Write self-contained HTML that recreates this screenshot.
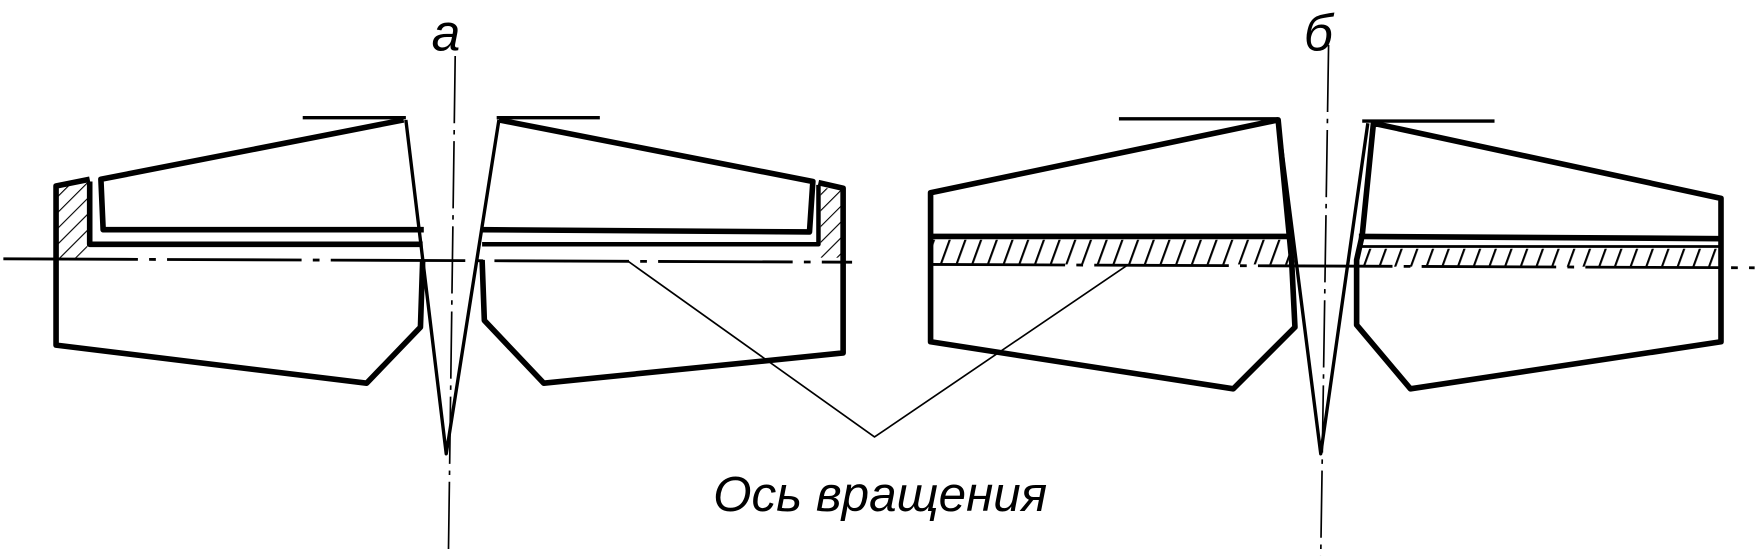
<!DOCTYPE html>
<html><head><meta charset="utf-8"><style>
html,body{margin:0;padding:0;background:#fff;}
svg{display:block;}
text{font-family:"Liberation Sans","DejaVu Sans",sans-serif;font-style:italic;fill:#000;}
</style></head><body>
<svg width="1758" height="558" viewBox="0 0 1568 498" preserveAspectRatio="none" xmlns="http://www.w3.org/2000/svg">
<defs>
<pattern id="h" width="10" height="10" patternUnits="userSpaceOnUse" patternTransform="rotate(45)">
<line x1="0" y1="0" x2="0" y2="10" stroke="#000" stroke-width="2"/></pattern>
<pattern id="h2" width="14" height="8" patternUnits="userSpaceOnUse" patternTransform="skewX(-20)">
<line x1="0" y1="0" x2="0" y2="8" stroke="#000" stroke-width="4"/></pattern>
</defs>
<g fill="none" stroke="#000" stroke-linejoin="round">
<line x1="406" y1="50" x2="400" y2="492" stroke-width="1.5" stroke-dasharray="60 6 4 6"/>
<line x1="1185" y1="40" x2="1178" y2="496" stroke-width="1.5" stroke-dasharray="60 6 4 6"/>
<line x1="3" y1="231" x2="760" y2="234" stroke-width="2.5" stroke-dasharray="120 10 6 10"/>
<line x1="830" y1="236" x2="1565" y2="239" stroke-width="2.5" stroke-dasharray="120 10 6 10"/>
<line x1="270" y1="105" x2="362" y2="105" stroke-width="3"/>
<line x1="443" y1="105" x2="535" y2="105" stroke-width="3"/>
<line x1="998" y1="106" x2="1140" y2="106" stroke-width="3"/>
<line x1="1215" y1="108" x2="1333" y2="108" stroke-width="3"/>
<polyline points="362,107 398,405 445,107" stroke-width="3"/>
<polyline points="378,205 92,205 90,160 360,107" stroke-width="5"/>
<polyline points="377,218 80,218 80,162" stroke-width="5"/>
<rect x="52" y="163" width="26" height="68" fill="url(#h)" stroke="none"/>
<polyline points="80,160 50,166 50,308 327,342 375,292 377,232" stroke-width="5"/>
<polyline points="430,205 722,207 725,162 445,107" stroke-width="5"/>
<polyline points="430,218 730,218 730,165" stroke-width="4"/>
<rect x="732" y="168" width="20" height="62" fill="url(#h)" stroke="none"/>
<polyline points="730,163 752,168 752,315 485,342 432,286 430,232" stroke-width="5"/>
<polyline points="1140,107 1178,405 1220,110" stroke-width="3"/>
<polygon points="830,172 1140,107 1152,232 1155,292 1100,347 830,305" stroke-width="5"/>
<rect x="832" y="214" width="320" height="22" fill="url(#h2)" stroke="none"/>
<line x1="830" y1="211" x2="1153" y2="211" stroke-width="5"/>
<polygon points="1225,110 1535,177 1535,305 1258,347 1210,290 1210,232 1215,210" stroke-width="5"/>
<rect x="1212" y="222" width="322" height="16" fill="url(#h2)" stroke="none"/>
<line x1="1212" y1="211" x2="1535" y2="213" stroke-width="5"/>
<line x1="1212" y1="220" x2="1535" y2="220" stroke-width="2.5"/>
<polyline points="560,233 780,390 1005,237" stroke-width="1.5"/>
</g>
<text x="385" y="45" font-size="46">а</text>
<text x="1163" y="45" font-size="46">б</text>
<text x="636" y="456" font-size="44" textLength="298" lengthAdjust="spacingAndGlyphs">Ось вращения</text>
</svg>
</body></html>
